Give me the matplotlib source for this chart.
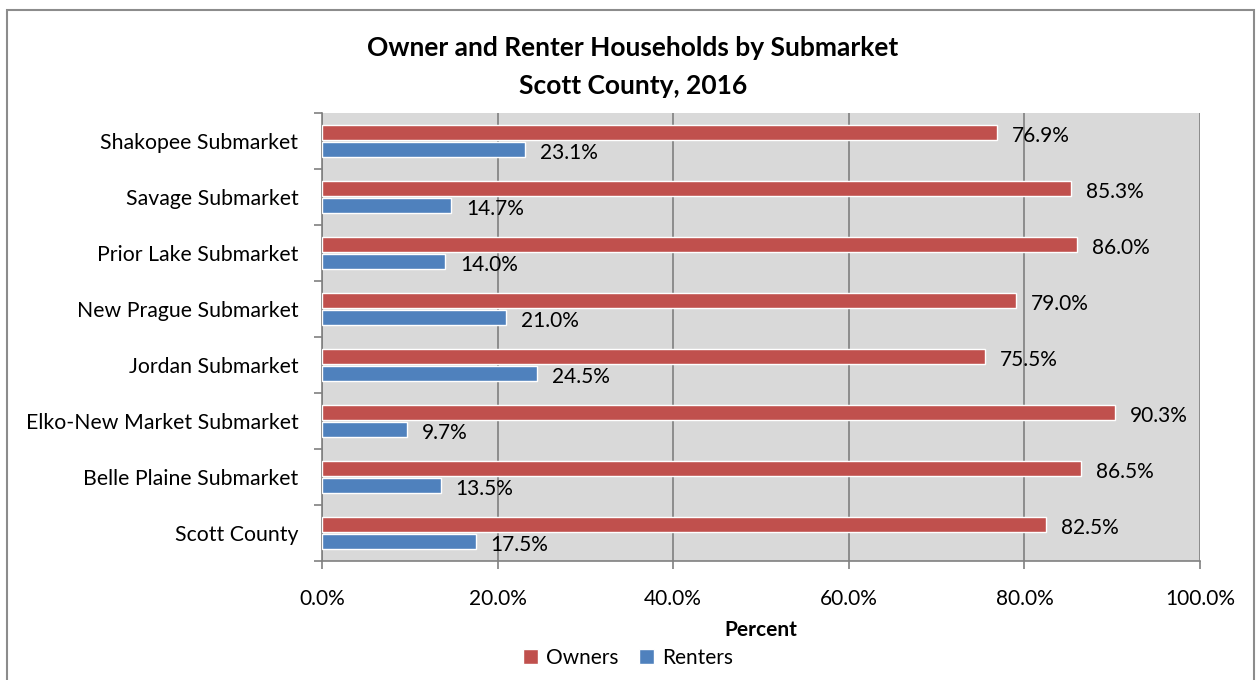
import matplotlib
matplotlib.use("Agg")
import matplotlib.pyplot as plt
import numpy as np
from matplotlib.ticker import FuncFormatter
from matplotlib.patches import Rectangle

# Dados
submercados = ["Shakopee Submarket", "Savage Submarket", "Prior Lake Submarket",
               "New Prague Submarket", "Jordan Submarket", "Elko-New Market Submarket",
               "Belle Plaine Submarket", "Scott County"]
proprietarios = [76.9, 85.3, 86.0, 79.0, 75.5, 90.3, 86.5, 82.5]
inquilinos = [23.1, 14.7, 14.0, 21.0, 24.5, 9.7, 13.5, 17.5]

cor_prop = "#C0504D"
cor_inq = "#4F81BD"

plt.rcParams['font.family'] = ['Lato', 'DejaVu Sans']
plt.rcParams['font.size'] = 15

fig = plt.figure(figsize=(12.6, 6.8), dpi=100)
ax = fig.add_axes([322 / 1260, 1 - 561 / 680, 878 / 1260, 448 / 680])

y = np.arange(len(submercados))
altura = 0.27
desloc = 0.15

barras_p = ax.barh(y - desloc, proprietarios, height=altura, color=cor_prop,
                   edgecolor="white", linewidth=1.0, label="Owners", zorder=3)
barras_i = ax.barh(y + desloc, inquilinos, height=altura, color=cor_inq,
                   edgecolor="white", linewidth=1.0, label="Renters", zorder=3)

for yy, v in zip(y - desloc, proprietarios):
    ax.text(v + 1.7, yy + 0.06, f"{v:.1f}%", va="center", ha="left", fontsize=15, zorder=4)
for yy, v in zip(y + desloc, inquilinos):
    ax.text(v + 1.7, yy + 0.06, f"{v:.1f}%", va="center", ha="left", fontsize=15, zorder=4)

ax.set_xlim(0, 100)
ax.set_ylim(len(submercados) - 0.5, -0.5)
ax.set_facecolor("#D9D9D9")

ax.set_xticks(np.arange(0, 101, 20))
ax.xaxis.set_major_formatter(FuncFormatter(lambda v, _: f"{v:.1f}%"))
ax.grid(axis="x", color="#808080", linewidth=1.2, zorder=1)

# Rótulos das categorias como ticks menores, ticks maiores nas divisas
ax.set_yticks(np.arange(-0.5, len(submercados), 1.0))
ax.set_yticklabels([])
ax.set_yticks(y, minor=True)
ax.set_yticklabels(submercados, minor=True)
ax.tick_params(axis="y", which="minor", length=0, pad=17, labelsize=15.3)
ax.tick_params(axis="y", which="major", length=6, color="#808080", width=1.2)
ax.tick_params(axis="x", length=6, color="#808080", width=1.2, pad=14, labelsize=15)

for lado in ["top", "right"]:
    ax.spines[lado].set_visible(False)
for lado in ["left", "bottom"]:
    ax.spines[lado].set_color("#808080")
    ax.spines[lado].set_linewidth(1.2)

ax.set_xlabel("Percent", fontweight="bold", fontsize=15, labelpad=8)

fig.text(633 / 1260, 1 - 67 / 680,
         "Owner and Renter Households by Submarket\nScott County, 2016",
         ha="center", va="center", fontsize=19, fontweight="bold", linespacing=1.7)

fig.legend(handles=[barras_p, barras_i], loc="center", bbox_to_anchor=(628 / 1260, 1 - 658 / 680),
           ncol=2, frameon=False, fontsize=15, handlelength=0.7, handleheight=0.7,
           handletextpad=0.4, columnspacing=1.0)

# Borda externa
fig.patches.append(Rectangle((7 / 1260, -0.01), 1247 / 1260, 1 - 10 / 680 + 0.01,
                             transform=fig.transFigure, fill=False,
                             edgecolor="#8C8C8C", linewidth=1.5))

fig.savefig("out.png", dpi=100)
